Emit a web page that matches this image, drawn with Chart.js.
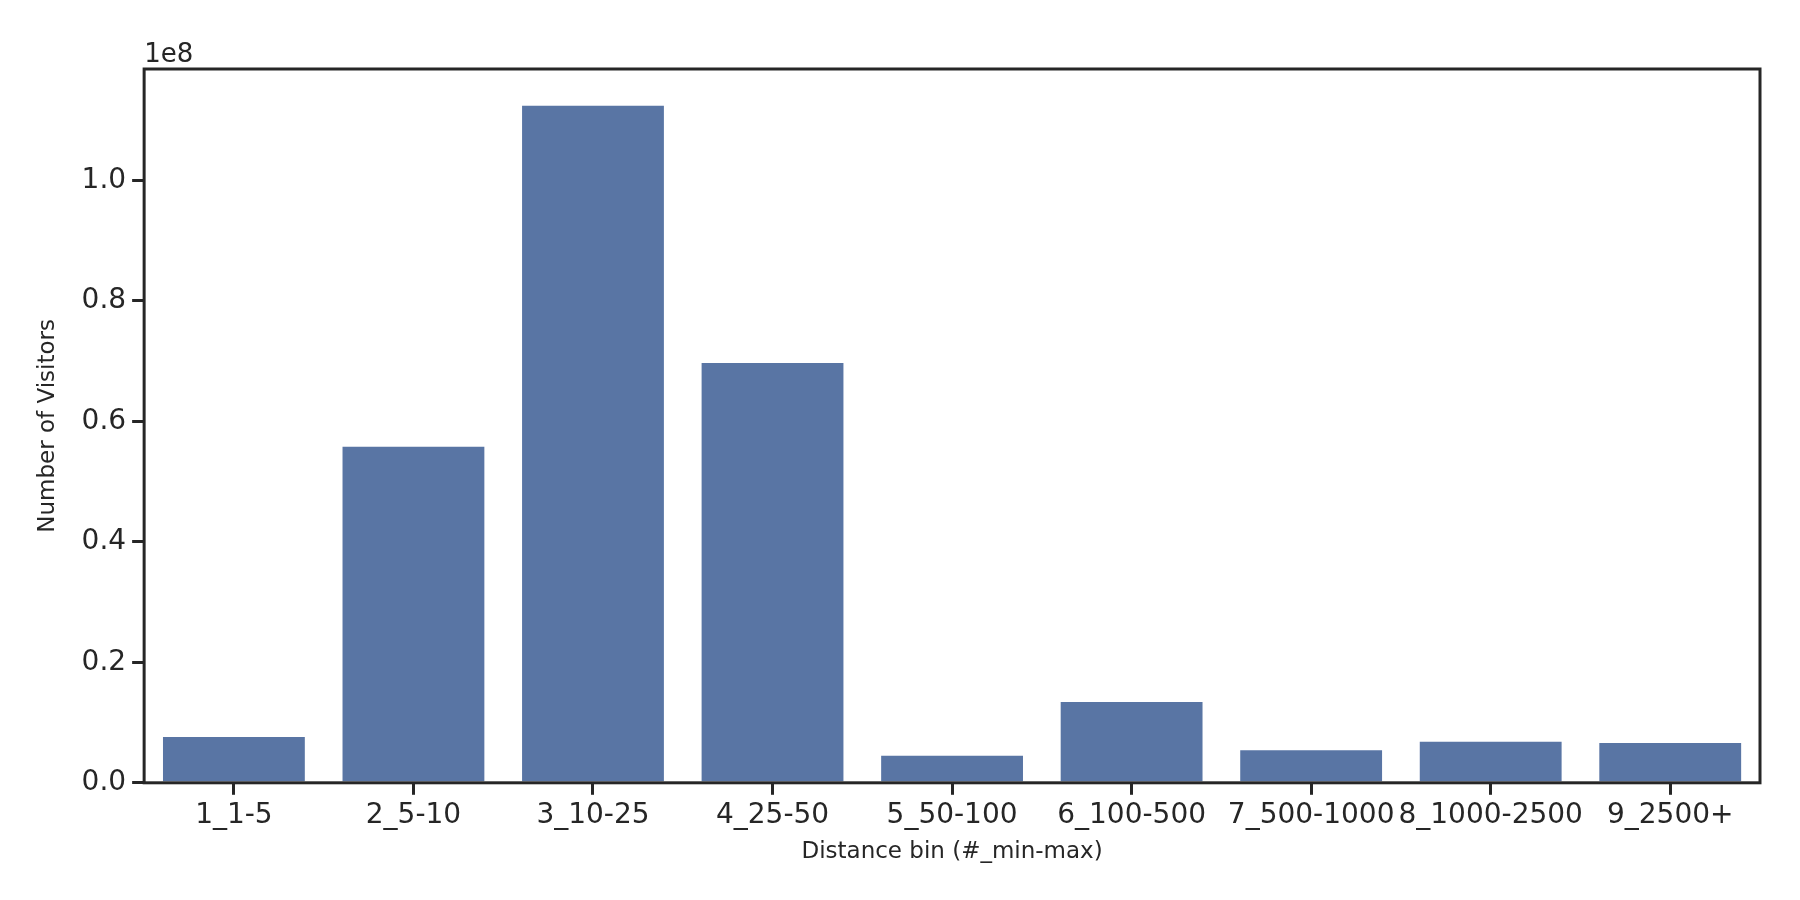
<!DOCTYPE html>
<html>
<head>
<meta charset="utf-8">
<script src="https://cdn.jsdelivr.net/npm/chart.js@4"></script>
<style>
  html, body { margin: 0; padding: 0; background: #fff; }
</style>
</head>
<body>
<canvas id="distChart" width="1800" height="900"></canvas>
<script>
const distanceBins = ['1_1-5', '2_5-10', '3_10-25', '4_25-50', '5_50-100', '6_100-500', '7_500-1000', '8_1000-2500', '9_2500+'];
const visitorCounts = [7.6e6, 5.58e7, 1.124e8, 6.97e7, 4.5e6, 1.34e7, 5.4e6, 6.8e6, 6.6e6];
const yTicks = [0, 0.2e8, 0.4e8, 0.6e8, 0.8e8, 1.0e8];

const ink = '#262626';
const font = "'DejaVu Sans', sans-serif";

// frame around the plot area plus the matplotlib-style offset label
const framePlugin = {
    id: 'frame',
    afterDraw(chart) {
        const { ctx, chartArea: a } = chart;
        ctx.save();
        ctx.strokeStyle = ink;
        ctx.lineWidth = 3;
        ctx.strokeRect(a.left, a.top, a.right - a.left, a.bottom - a.top);
        ctx.fillStyle = ink;
        ctx.font = "26px " + font;
        ctx.textBaseline = 'bottom';
        ctx.fillText('1e8', a.left, a.top - 1);
        ctx.restore();
    }
};

new Chart(document.getElementById('distChart'), {
    type: 'bar',
    data: {
        labels: distanceBins,
        datasets: [{ data: visitorCounts, backgroundColor: '#5975a4', categoryPercentage: 0.79, barPercentage: 1 }]
    },
    options: {
        responsive: false,
        animation: false,
        layout: { padding: { top: 69, right: 40, left: 30, bottom: 30 } },
        plugins: { legend: { display: false }, tooltip: { enabled: false } },
        scales: {
            x: {
                grid: { display: true, offset: false, drawOnChartArea: false, drawTicks: true, tickLength: 12, color: ink, lineWidth: 3 },
                border: { display: false },
                ticks: { color: ink, font: { size: 28, family: font }, maxRotation: 0, autoSkip: false, padding: 4 },
                title: { display: true, text: 'Distance bin (#_min-max)', color: ink, font: { size: 23, family: font }, padding: { top: 2 } }
            },
            y: {
                min: 0,
                max: 1.185e8,
                afterBuildTicks(axis) { axis.ticks = yTicks.map(v => ({ value: v })); },
                grid: { display: true, drawOnChartArea: false, drawTicks: true, tickLength: 12, color: ink, lineWidth: 3 },
                border: { display: false },
                ticks: { color: ink, font: { size: 28, family: font }, padding: 6, callback: v => (v / 1e8).toFixed(1) },
                title: { display: true, text: 'Number of Visitors', color: ink, font: { size: 23, family: font }, padding: { bottom: 14 } }
            }
        }
    },
    plugins: [framePlugin]
});
</script>
</body>
</html>
